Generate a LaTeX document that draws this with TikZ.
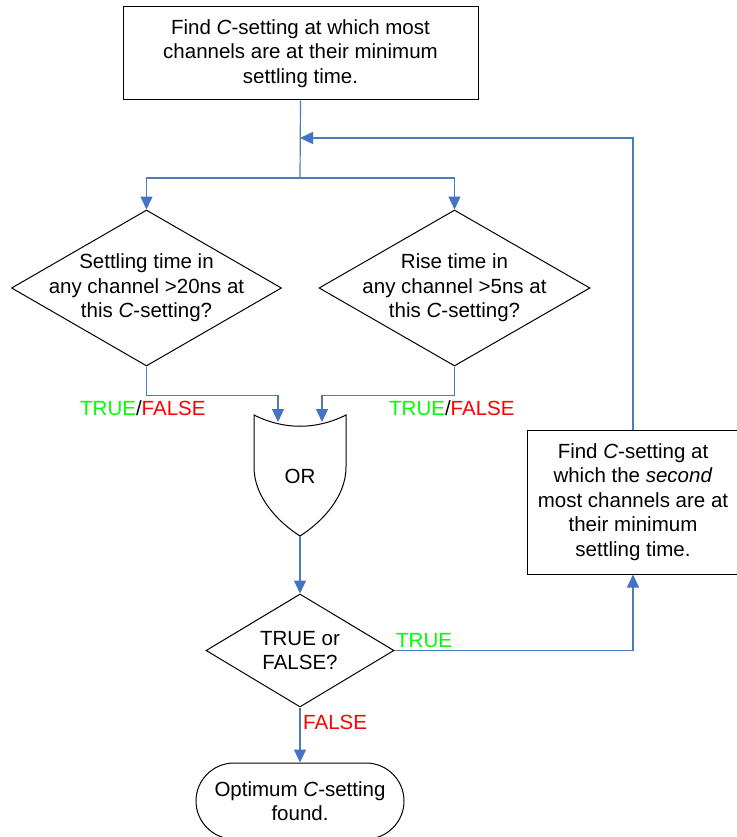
\documentclass[tikz,border=0pt]{standalone}
\usepackage{fontspec}
\setmainfont{Liberation Sans}
\usetikzlibrary{arrows.meta,shapes.geometric}
\definecolor{linkblue}{RGB}{74,126,187}
\definecolor{tipblue}{RGB}{68,114,196}
\definecolor{truegreen}{RGB}{0,255,0}
\definecolor{falsered}{RGB}{255,0,0}

\begin{document}
\begin{tikzpicture}[x=1pt,y=-1pt,
    txt/.style={font=\fontsize{20.5}{24.5}\selectfont,align=center,inner sep=0pt},
    procbox/.style={draw,line width=1pt,rectangle,txt},
    decision/.style={draw,line width=1pt,diamond,inner sep=0pt},
    link/.style={draw=linkblue,line width=1.2pt},
    flow/.style={link,-{Triangle[length=13pt,width=12pt,color=tipblue]}}]

      \path[fill=white,use as bounding box] (0,0) rectangle (736,837);

      \node[procbox,minimum width=355,minimum height=93] (find) at (300.5,53.5)
        {Find \textit{C}-setting at which most\\channels are at their minimum\\settling time.};

      \node[decision,minimum width=270,minimum height=156] (settle) at (146.5,288) {};
      \node[txt] (settletxt) at (settle) {Settling time in\\any channel >20ns at\\this \textit{C}-setting?};

      \node[decision,minimum width=271,minimum height=156] (rise) at (454.5,288) {};
      \node[txt] (risetxt) at (rise) {Rise time in\\any channel >5ns at\\this \textit{C}-setting?};

      \draw[line width=1pt] (254,415) .. controls (284,430) and (316,430) .. (346,415)
        -- (346,467) .. controls (346,497) and (322,522) .. (300,536)
        .. controls (278,522) and (254,497) .. (254,467) -- cycle;
      \node[txt] (orgate) at (300,476) {OR};
      \coordinate (orin1) at (278,422);
      \coordinate (orin2) at (322,422);
      \coordinate (orout) at (300,536);

      \node[decision,minimum width=188,minimum height=113] (verdict) at (300,650.5) {};
      \node[txt] (verdicttxt) at (verdict) {TRUE or\\FALSE?};

      \node[procbox,minimum width=212,minimum height=144] (redo) at (633,502)
        {Find \textit{C}-setting at\\which the \textit{second}\\most channels are at\\their minimum\\settling time.};

      \node[procbox,rounded corners=38,minimum width=208,minimum height=76] (done) at (300,801)
        {Optimum \textit{C}-setting\\found.};

      \coordinate (split) at (300,178);
      \coordinate (loop) at (300,138);
      \draw[link] (find.south) -- (split);
      \draw[flow] (split) -| (settle.north);
      \draw[flow] (split) -| (rise.north);
      \draw[flow] (settle.south) -- ++(0,29) -| (orin1);
      \draw[flow] (rise.south) -- ++(0,29) -| (orin2);
      \draw[flow] (orout) -- (verdict.north);
      \draw[flow] (verdict.east) -| (redo.south);
      \draw[flow] (redo.north) |- (loop);
      \draw[flow] (verdict.south) -- (done.north);

      \node[txt,anchor=base west] (lefttf) at (80,415)
        {\textcolor{truegreen}{TRUE}/\textcolor{falsered}{FALSE}};
      \node[txt,anchor=base west] (righttf) at (389,415)
        {\textcolor{truegreen}{TRUE}/\textcolor{falsered}{FALSE}};
      \node[txt,anchor=base west,text=truegreen] (yes) at (396,647) {TRUE};
      \node[txt,anchor=base west,text=falsered] (no) at (303,729) {FALSE};
    \end{tikzpicture}
\end{document}
